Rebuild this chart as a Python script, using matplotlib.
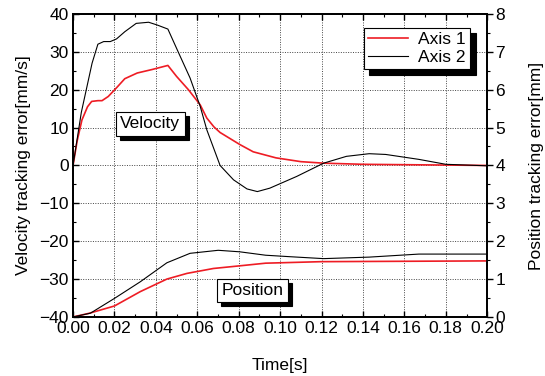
import matplotlib.pyplot as plt
import matplotlib.transforms as mtransforms
import numpy as np

plt.rcParams['font.family'] = ['Liberation Sans', 'DejaVu Sans']
plt.rcParams['font.size'] = 12

# velocity tracking error [mm/s]
t_vel1 = [0.0, 0.002, 0.0043, 0.007, 0.009, 0.012, 0.014, 0.017, 0.021, 0.025, 0.031, 0.038, 0.0458,
          0.050, 0.0557, 0.0614, 0.0646, 0.068, 0.071, 0.0806, 0.087, 0.098, 0.11, 0.121, 0.14, 0.159, 0.18, 0.2]
vel1 = [0.0, 6.5, 12.0, 15.5, 16.9, 17.1, 17.1, 18.2, 20.5, 22.9, 24.4, 25.3, 26.4,
        23.5, 20.0, 16.0, 12.5, 10.2, 8.7, 5.5, 3.6, 2.0, 1.0, 0.6, 0.3, 0.2, 0.1, 0.0]

t_vel2 = [0.0, 0.004, 0.0092, 0.012, 0.0148, 0.018, 0.021, 0.025, 0.0305, 0.0365, 0.0405, 0.0458,
          0.051, 0.0565, 0.0614, 0.0646, 0.071, 0.0775, 0.084, 0.089, 0.095, 0.108, 0.121, 0.132,
          0.143, 0.151, 0.167, 0.180, 0.2]
vel2 = [0.0, 14.0, 27.0, 32.0, 32.7, 32.7, 33.4, 35.3, 37.5, 37.8, 37.1, 36.0,
        29.7, 23.1, 15.6, 9.4, 0.0, -3.8, -6.2, -6.9, -6.0, -2.9, 0.6, 2.4,
        3.1, 2.9, 1.6, 0.3, -0.1]

# position tracking error [mm]
t_pos1 = [0.0, 0.008, 0.02, 0.0325, 0.0453, 0.055, 0.0678, 0.0805, 0.093, 0.12, 0.16, 0.2]
pos1 = [0.0, 0.1, 0.29, 0.67, 1.0, 1.15, 1.28, 1.35, 1.42, 1.46, 1.47, 1.48]

t_pos2 = [0.0, 0.0084, 0.02, 0.0325, 0.0453, 0.0565, 0.0701, 0.0805, 0.093, 0.105, 0.121, 0.143, 0.167, 0.2]
pos2 = [0.0, 0.1, 0.49, 0.93, 1.43, 1.68, 1.76, 1.72, 1.63, 1.59, 1.54, 1.58, 1.66, 1.66]

fig = plt.figure(figsize=(5.45, 3.76), dpi=100)
ax = fig.add_axes([0.134, 0.157, 0.760, 0.806])
ax2 = ax.twinx()

l1, = ax.plot(t_vel1, vel1, color='#ee1c24', lw=1.2, label='Axis 1')
l2, = ax.plot(t_vel2, vel2, color='black', lw=0.8, label='Axis 2')
ax2.plot(t_pos1, pos1, color='#ee1c24', lw=1.2)
ax2.plot(t_pos2, pos2, color='black', lw=0.8)

ax.set_xlim(0, 0.2)
ax.set_ylim(-40, 40)
ax2.set_ylim(0, 8)
ax.set_xticks(np.arange(0, 0.201, 0.02))
ax.set_xticks(np.arange(0, 0.201, 0.01), minor=True)
ax.set_xticklabels([f'{v:.2f}' for v in np.arange(0, 0.201, 0.02)])
ax.set_yticks(np.arange(-40, 41, 10))
ax.set_yticks(np.arange(-40, 41, 5), minor=True)
ax2.set_yticks(np.arange(0, 9, 1))
ax2.set_yticks(np.arange(0, 8.1, 0.5), minor=True)

fs = 12.5
ax.grid(True, which='major', color='#444444', linestyle=(0, (1, 1.5)), linewidth=0.7)
ax.tick_params(axis='both', which='both', direction='in', top=True, labelsize=fs)
ax.tick_params(which='major', length=4, width=1, pad=3)
ax.tick_params(which='minor', length=2.5, width=0.8)
ax2.tick_params(axis='y', which='both', direction='out', labelsize=fs)
ax2.tick_params(which='major', length=4, width=1, pad=2)
ax2.tick_params(which='minor', length=2.5, width=0.8)
for a in (ax, ax2):
    for sp in a.spines.values():
        sp.set_linewidth(1.3)

ax.set_xlabel('Time[s]', fontsize=fs, labelpad=16)
ax.set_ylabel('Velocity tracking error[mm/s]', fontsize=fs, labelpad=6)
ax2.set_ylabel('Position tracking error[mm]', fontsize=fs, labelpad=17)

leg = ax.legend(loc='upper right', bbox_to_anchor=(0.959, 0.954), frameon=True, fancybox=False,
                edgecolor='black', framealpha=1, fontsize=fs, handlelength=2.3,
                borderpad=0.25, labelspacing=0.15, handletextpad=0.6, borderaxespad=0,
                shadow={'color': 'black', 'alpha': 1, 'ox': 4, 'oy': -4})
leg.get_frame().set_linewidth(0.8)
leg.set_zorder(10)


def shadow_label(x, y, s):
    off = mtransforms.offset_copy(ax.transData, fig=fig, x=3, y=-3, units='points')
    box = dict(boxstyle='square,pad=0.25', fc='black', ec='black', lw=0.8)
    ax.text(x, y, s, transform=off, ha='center', va='center', fontsize=fs,
            color='black', bbox=box, zorder=8)
    box = dict(boxstyle='square,pad=0.25', fc='white', ec='black', lw=0.8)
    ax.text(x, y, s, ha='center', va='center', fontsize=fs, bbox=box, zorder=9)


shadow_label(0.0373, 11, 'Velocity')
shadow_label(0.0865, -33, 'Position')

fig.savefig('out.png', dpi=100)
